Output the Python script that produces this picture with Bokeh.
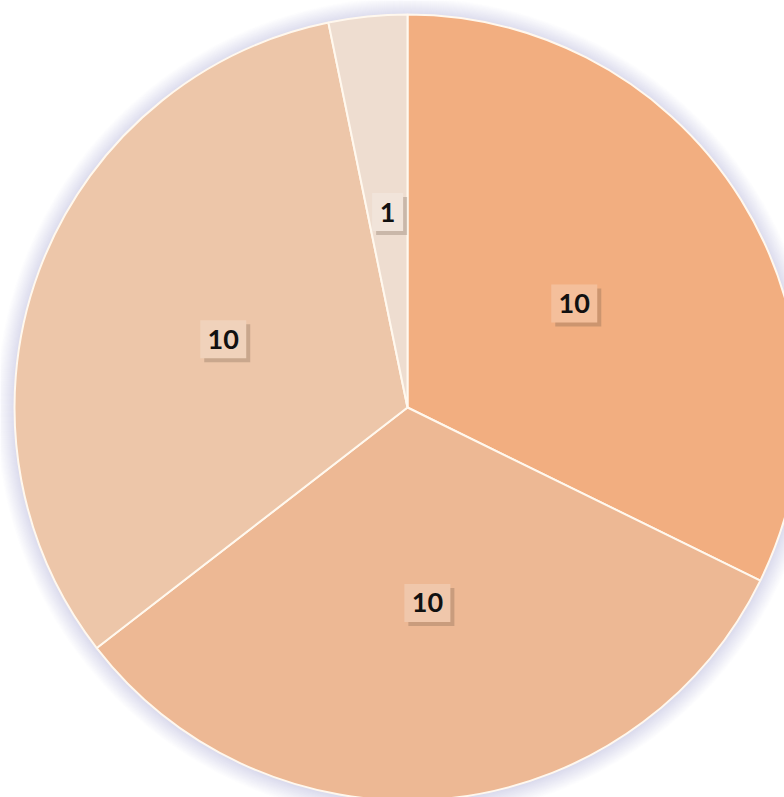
import math
from bokeh.plotting import figure
from bokeh.models import ColumnDataSource, Range1d
from bokeh.core.properties import value
from bokeh.embed import file_html
from bokeh.resources import INLINE

# data
categories = ["A", "B", "C", "D"]
values = [10, 10, 10, 1]
colors = ["#F2AE80", "#EDB894", "#EDC6A9", "#EEDDD0"]

W, H = 784, 797
CX, CY = 407, 407          # pie centre in screen px within the frame
R = 393

p = figure(width=W, height=H, output_backend="svg", toolbar_location=None,
           x_range=Range1d(-CX, W - CX), y_range=Range1d(-(H - CY), CY),
           min_border=0, outline_line_color=None)
p.axis.visible = False
p.grid.visible = False
p.background_fill_color = "white"
p.border_fill_color = "white"

# soft outer shadow
for k in range(18, 0, -1):
    p.circle(x=[0], y=[-1], radius=R + k, fill_color="#b3c0cf",
             fill_alpha=0.026, line_color=None)

total = sum(values)
starts, ends, lx, ly, texts, boxc, bw = [], [], [], [], [], [], []
cum = 0.0
for v, c in zip(values, colors):
    a0 = math.pi / 2 - 2 * math.pi * cum / total
    cum += v
    a1 = math.pi / 2 - 2 * math.pi * cum / total
    starts.append(a1)
    ends.append(a0)
    mid = (a0 + a1) / 2
    lx.append(0.5 * R * math.cos(mid))
    ly.append(0.5 * R * math.sin(mid))
    texts.append(str(v))
    r_, g_, b_ = int(c[1:3], 16), int(c[3:5], 16), int(c[5:7], 16)
    f = 0.22
    boxc.append("#%02x%02x%02x" % (int(r_ + f * (255 - r_)), int(g_ + f * (255 - g_)), int(b_ + f * (255 - b_))))
    bw.append(16 + 15 * len(str(v)))

src = ColumnDataSource(dict(cat=categories, val=values, color=colors,
                            start=starts, end=ends))
p.wedge(x=0, y=0, radius=R, start_angle="start", end_angle="end",
        direction="anticlock", fill_color="color", line_color="#FFF8EE",
        line_width=2, source=src)

lsrc = ColumnDataSource(dict(x=lx, y=ly, text=texts, box=boxc, w=bw,
                             sx=[x + 4 for x in lx], sy=[y - 4 for y in ly]))
p.rect(x="sx", y="sy", width="w", height=38, width_units="screen",
       height_units="screen", fill_color="#6b5646", fill_alpha=0.28,
       line_color=None, source=lsrc)
p.rect(x="x", y="y", width="w", height=38, width_units="screen",
       height_units="screen", fill_color="box", line_color=None, source=lsrc)
p.text(x="x", y="y", text="text", text_align="center", text_baseline="middle",
       text_font=value("Lato"), text_font_style="bold", text_font_size="27px",
       text_color="#111111", source=lsrc)

open("out.html", "w").write(file_html(p, INLINE))
